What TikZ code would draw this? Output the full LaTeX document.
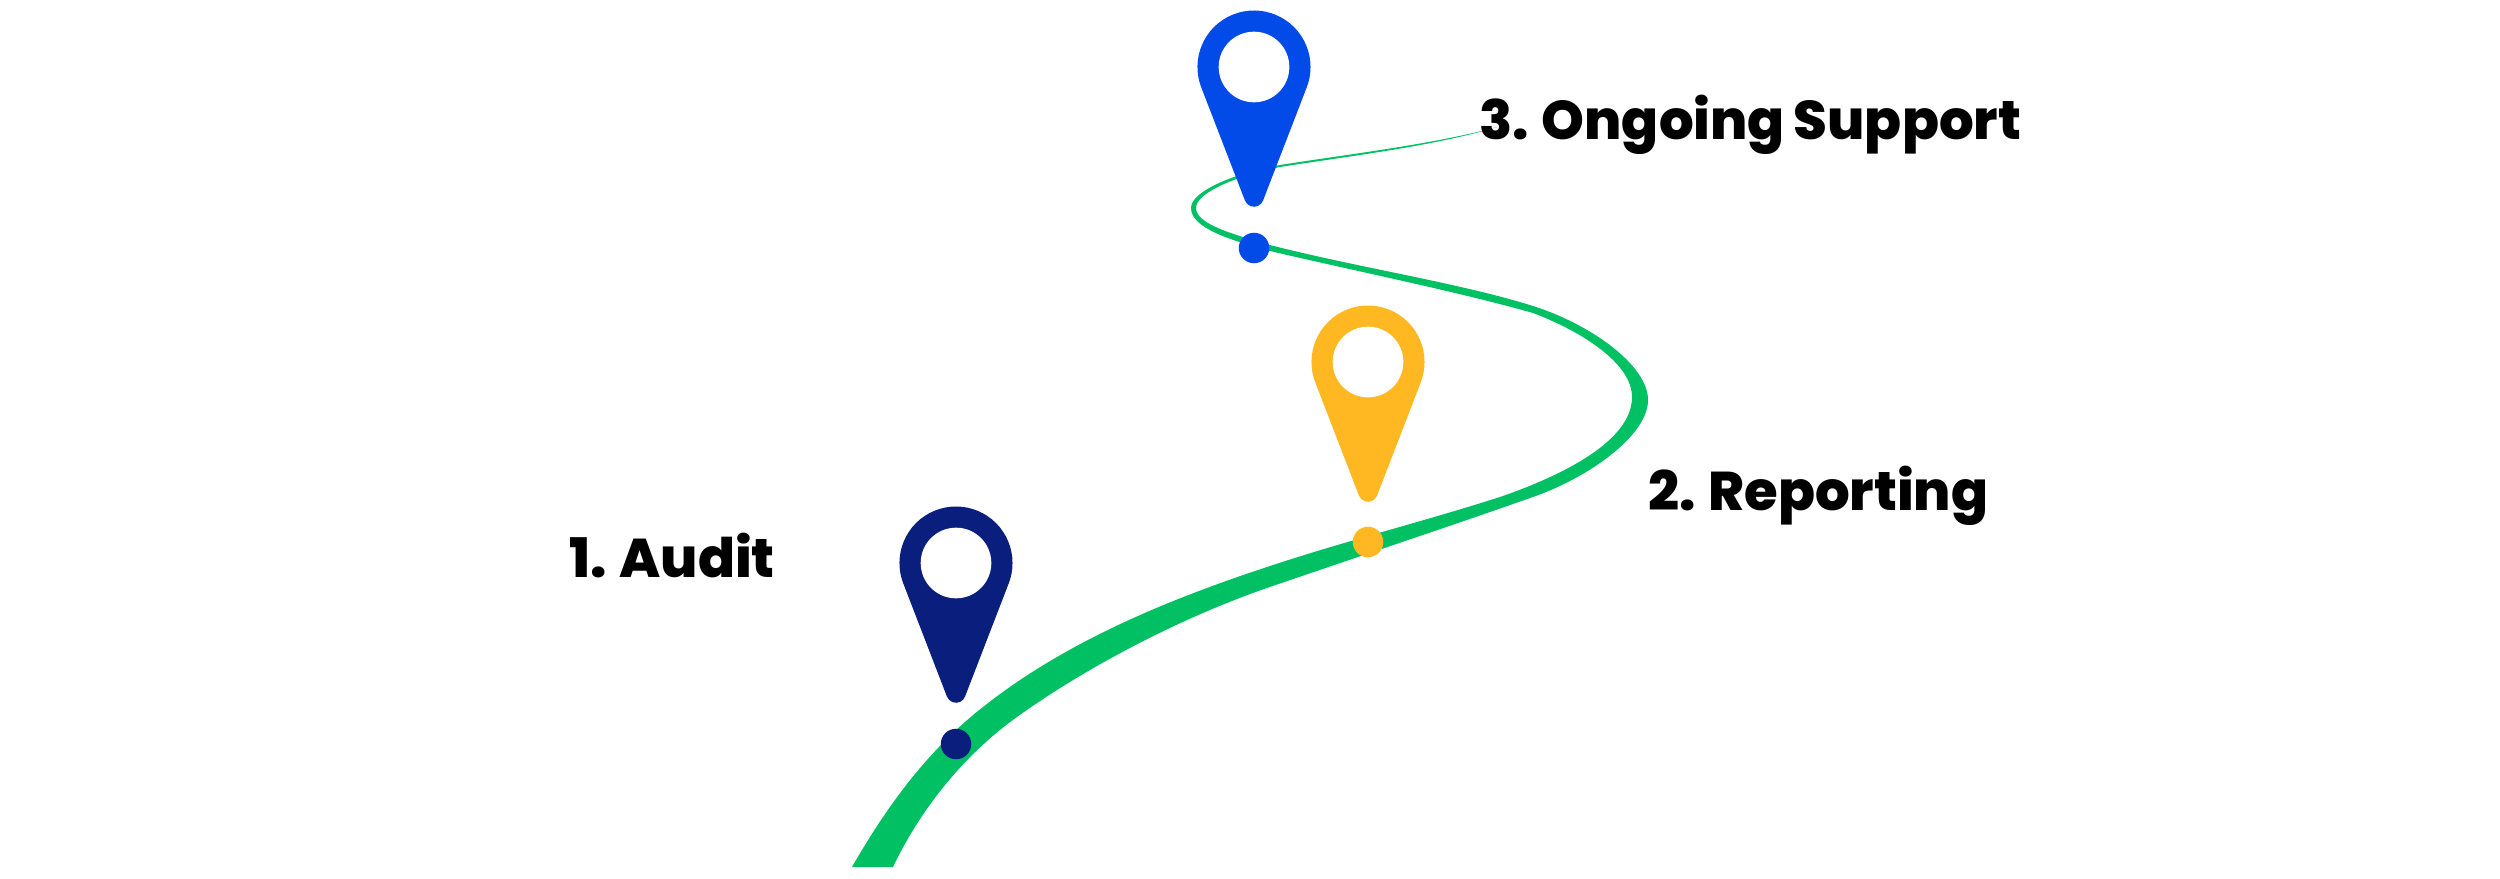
\documentclass[tikz,border=0pt]{standalone}
\usepackage{fontspec}
\setmainfont{Poppins}[BoldFont={Poppins ExtraBold},WordSpace=0.85]
\definecolor{pathgreen}{HTML}{00C064}
\definecolor{auditnavy}{HTML}{0A1F7D}
\definecolor{reportamber}{HTML}{FFB822}
\definecolor{supportblue}{HTML}{034BE8}

\begin{document}
\begin{tikzpicture}[
  x=0.01cm, y=-0.01cm,
  stepdot/.style={circle, inner sep=0pt, minimum size=0.305cm},
  steplabel/.style={anchor=base west, inner sep=0pt, text=black,
                    font=\fontsize{15.5}{18}\selectfont\bfseries},
  locpin/.pic={
    \path[pic actions] (-0.524cm,-0.212cm) arc[start angle=202, end angle=-22, radius=0.565cm]
         -- (0.091cm,-1.333cm) arc[start angle=-20, end angle=-160, radius=0.097cm] -- cycle;
    \fill[white] (0,0) circle[radius=0.353cm];
  },
]
  \useasboundingbox (0,0) rectangle (2500,879);

  % ===== Green road, filled between its two edges =====
  \fill[pathgreen] (852,867)
    .. controls (887,806) and (928,750) .. (983,707)
    .. controls (1065,642) and (1167,600) .. (1267,567)
    .. controls (1345,541) and (1422,522) .. (1500,497)
    .. controls (1575,471) and (1632,437) .. (1632,397)
    .. controls (1632,362) and (1578,330) .. (1533,313)
    .. controls (1455,291) and (1355,271) .. (1270,251)
    .. controls (1230,240) and (1191,228) .. (1191,208)
    .. controls (1191,190) and (1240,172) .. (1280,165)
    .. controls (1350,154) and (1435,144) .. (1497,127)
    % back along the other edge
    .. controls (1435,146) and (1350,156) .. (1280,167)
    .. controls (1240,175) and (1196,192) .. (1196,208)
    .. controls (1196,224) and (1232,234) .. (1270,245)
    .. controls (1355,267) and (1460,283) .. (1533,306)
    .. controls (1590,324) and (1648,365) .. (1648,400)
    .. controls (1648,435) and (1590,477) .. (1533,497)
    .. controls (1445,528) and (1360,556) .. (1267,588)
    .. controls (1180,618) and (1085,668) .. (1017,717)
    .. controls (972,749) and (925,800) .. (893,867) -- cycle;

  % ===== Pins =====
  \pic[fill=auditnavy]   (pinaudit)   at (956,563)  {locpin};
  \pic[fill=reportamber] (pinreport)  at (1368,362) {locpin};
  \pic[fill=supportblue] (pinsupport) at (1254,67)  {locpin};

  % ===== Dots on the road =====
  \node[stepdot, fill=auditnavy]   (dotaudit)   at (956,744)  {};
  \node[stepdot, fill=reportamber] (dotreport)  at (1368,542) {};
  \node[stepdot, fill=supportblue] (dotsupport) at (1254,248) {};

  % ===== Labels =====
  \node[steplabel] (labelaudit)   at (569,577)  {1. Audit};
  \node[steplabel] (labelreport)  at (1648,510) {2. Reporting};
  \node[steplabel] (labelsupport) at (1479,140) {3. Ongoing Support};

\end{tikzpicture}
\end{document}
